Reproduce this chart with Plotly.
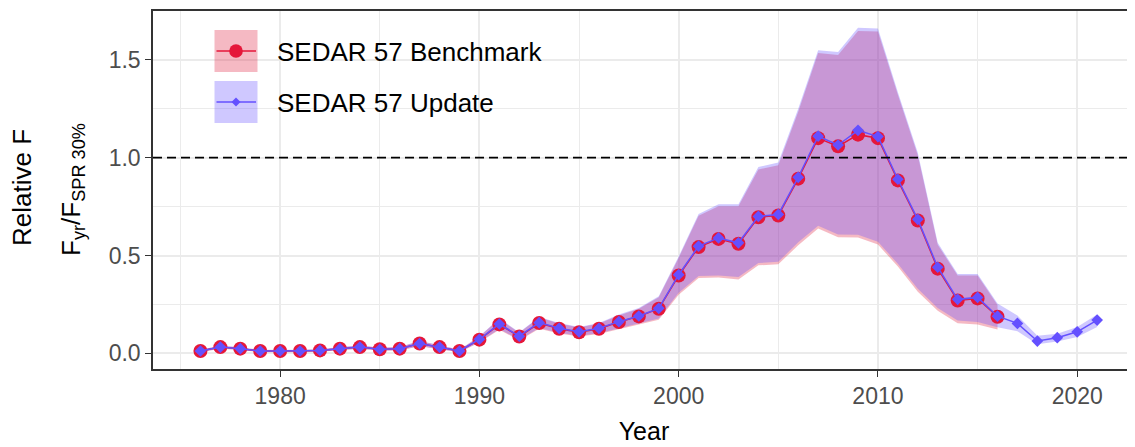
import plotly.graph_objects as go

# ---------------- data ----------------
years_bench = list(range(1976, 2017))
years_update = list(range(1976, 2022))

f_bench = [0.012, 0.032, 0.024, 0.012, 0.012, 0.012, 0.015, 0.024, 0.032, 0.021,
           0.024, 0.050, 0.032, 0.012, 0.070, 0.148, 0.086, 0.155, 0.126, 0.108,
           0.126, 0.160, 0.189, 0.228, 0.398, 0.543, 0.585, 0.560, 0.696, 0.705,
           0.893, 1.100, 1.058, 1.118, 1.100, 0.884, 0.679, 0.433, 0.270, 0.281,
           0.187]
f_bench_lo = [0.006, 0.024, 0.017, 0.006, 0.006, 0.006, 0.008, 0.016, 0.023, 0.013,
              0.015, 0.036, 0.020, 0.005, 0.055, 0.121, 0.066, 0.126, 0.101, 0.086,
              0.099, 0.124, 0.147, 0.172, 0.300, 0.385, 0.388, 0.378, 0.450, 0.455,
              0.553, 0.638, 0.594, 0.592, 0.556, 0.444, 0.315, 0.218, 0.154, 0.148,
              0.122]
f_bench_hi = [0.017, 0.039, 0.030, 0.017, 0.017, 0.017, 0.021, 0.031, 0.040, 0.028,
              0.032, 0.062, 0.042, 0.018, 0.086, 0.175, 0.105, 0.183, 0.152, 0.132,
              0.152, 0.194, 0.228, 0.287, 0.488, 0.703, 0.752, 0.752, 0.940, 0.962,
              1.235, 1.535, 1.525, 1.648, 1.645, 1.322, 1.012, 0.555, 0.398, 0.398,
              0.247]

f_update = [0.012, 0.032, 0.024, 0.012, 0.012, 0.012, 0.015, 0.024, 0.032, 0.021,
            0.024, 0.050, 0.032, 0.012, 0.072, 0.150, 0.088, 0.157, 0.128, 0.110,
            0.128, 0.162, 0.191, 0.230, 0.402, 0.548, 0.590, 0.565, 0.700, 0.710,
            0.900, 1.110, 1.065, 1.140, 1.108, 0.890, 0.685, 0.440, 0.276, 0.286,
            0.190, 0.153, 0.063, 0.080, 0.110, 0.170]
f_update_lo = [0.007, 0.025, 0.018, 0.007, 0.007, 0.007, 0.009, 0.017, 0.024, 0.014,
               0.016, 0.038, 0.022, 0.006, 0.058, 0.125, 0.070, 0.130, 0.105, 0.090,
               0.103, 0.128, 0.152, 0.178, 0.310, 0.395, 0.398, 0.390, 0.462, 0.468,
               0.568, 0.652, 0.608, 0.606, 0.570, 0.458, 0.330, 0.232, 0.168, 0.160,
               0.133, 0.113, 0.047, 0.060, 0.083, 0.135]
f_update_hi = [0.018, 0.040, 0.031, 0.018, 0.018, 0.018, 0.022, 0.032, 0.041, 0.029,
               0.033, 0.064, 0.043, 0.019, 0.088, 0.178, 0.108, 0.186, 0.155, 0.135,
               0.155, 0.198, 0.232, 0.292, 0.495, 0.712, 0.762, 0.762, 0.952, 0.975,
               1.250, 1.550, 1.540, 1.665, 1.660, 1.335, 1.025, 0.565, 0.405, 0.405,
               0.255, 0.193, 0.090, 0.100, 0.135, 0.198]

x_ticks = [1980, 1990, 2000, 2010, 2020]
y_ticks = [0.0, 0.5, 1.0, 1.5]
ref_level = 1.0
series_names = ["SEDAR 57 Benchmark", "SEDAR 57 Update"]

# ---------------- styles ----------------
RED = "#E5173A"
BLUE = "#6450FF"
RED_FILL = "rgba(222,22,55,0.30)"
BLUE_FILL = "rgba(95,72,255,0.30)"
FONT = "Liberation Sans, Arial, sans-serif"

# page body has an 8px margin; the figure is laid out to compensate
OFF = 8
PLOT_L, PLOT_T, PLOT_R, PLOT_B = 153, 11, 1135, 369   # target panel edges in the window
ML = PLOT_L - OFF
MT = PLOT_T - OFF
PW = PLOT_R - PLOT_L
PH = PLOT_B - PLOT_T
MR = 0
MB = 78
W = ML + PW + MR
H = MT + PH + MB


def px_x(p):
    return (p - PLOT_L) / PW


def px_y(p):
    return (PLOT_B - p) / PH


fig = go.Figure()

# confidence bands
fig.add_trace(go.Scatter(
    x=years_bench + years_bench[::-1], y=f_bench_hi + f_bench_lo[::-1],
    fill="toself", fillcolor=RED_FILL, line=dict(width=0), mode="lines",
    hoverinfo="skip", showlegend=False))
fig.add_trace(go.Scatter(
    x=years_update + years_update[::-1], y=f_update_hi + f_update_lo[::-1],
    fill="toself", fillcolor=BLUE_FILL, line=dict(width=0), mode="lines",
    hoverinfo="skip", showlegend=False))

# point estimates
fig.add_trace(go.Scatter(
    x=years_bench, y=f_bench, mode="lines+markers", name=series_names[0],
    line=dict(color=RED, width=1.5),
    marker=dict(color=RED, size=14, symbol="circle"), showlegend=False))
fig.add_trace(go.Scatter(
    x=years_update, y=f_update, mode="lines+markers", name=series_names[1],
    line=dict(color=BLUE, width=1.5),
    marker=dict(color=BLUE, size=9, symbol="diamond"), showlegend=False))

shapes = [
    dict(type="line", xref="paper", yref="y", x0=0, x1=1, y0=ref_level, y1=ref_level,
         line=dict(color="black", width=1.8, dash="9px,5px"), layer="above"),
]

# manual legend (ggplot-style keys)
key_x0, key_x1 = 214.5, 257.5
keys = [(30, 72, RED_FILL, RED, "circle"), (81, 123, BLUE_FILL, BLUE, "diamond")]
annotations = []
for (ky0, ky1, fillc, linec, sym), label in zip(keys, series_names):
    cy = (ky0 + ky1) / 2
    shapes.append(dict(type="rect", xref="paper", yref="paper",
                       x0=px_x(key_x0), x1=px_x(key_x1), y0=px_y(ky1), y1=px_y(ky0),
                       fillcolor=fillc, line=dict(width=0), layer="above"))
    shapes.append(dict(type="line", xref="paper", yref="paper",
                       x0=px_x(key_x0 + 2), x1=px_x(key_x1 - 1.5), y0=px_y(cy), y1=px_y(cy),
                       line=dict(color=linec, width=1.5), layer="above"))
    cx = (key_x0 + key_x1) / 2
    if sym == "circle":
        r = 6.8
        shapes.append(dict(type="circle", xref="paper", yref="paper",
                           x0=px_x(cx - r), x1=px_x(cx + r), y0=px_y(cy + r), y1=px_y(cy - r),
                           fillcolor=linec, line=dict(width=0), layer="above"))
    else:
        r = 4.5
        path = "M {:.5f} {:.5f} L {:.5f} {:.5f} L {:.5f} {:.5f} L {:.5f} {:.5f} Z".format(
            px_x(cx), px_y(cy - r), px_x(cx + r), px_y(cy),
            px_x(cx), px_y(cy + r), px_x(cx - r), px_y(cy))
        shapes.append(dict(type="path", xref="paper", yref="paper", path=path,
                           fillcolor=linec, line=dict(width=0), layer="above"))
    annotations.append(dict(text=label, xref="paper", yref="paper",
                            x=px_x(275), y=px_y(cy + 1), xanchor="left", yanchor="middle",
                            showarrow=False, font=dict(family=FONT, size=26, color="black")))

# y-axis title (two lines)
annotations.append(dict(text="Relative F", xref="paper", yref="paper",
                        x=px_x(22), y=px_y(188), xanchor="center", yanchor="middle",
                        textangle=-90, showarrow=False,
                        font=dict(family=FONT, size=26, color="black")))
annotations.append(dict(text="F<sub>yr</sub>/F<sub>SPR 30%</sub>", xref="paper", yref="paper",
                        x=px_x(72), y=px_y(190), xanchor="center", yanchor="middle",
                        textangle=-90, showarrow=False,
                        font=dict(family=FONT, size=26, color="black")))

fig.update_layout(
    width=W, height=H,
    margin=dict(l=ML, r=MR, t=MT, b=MB, pad=0),
    paper_bgcolor="white", plot_bgcolor="white",
    font=dict(family=FONT, color="#4D4D4D"),
    shapes=shapes, annotations=annotations,
    showlegend=False,
)

fig.update_xaxes(
    range=[1973.62, 2022.9], tickvals=x_ticks, ticktext=[str(v) for v in x_ticks],
    ticks="outside", ticklen=6, tickwidth=1.3, tickcolor="#333333",
    tickfont=dict(family=FONT, size=23, color="#4D4D4D"),
    showgrid=True, gridcolor="#EBEBEB", gridwidth=1.6,
    minor=dict(dtick=5, tick0=1975, showgrid=True, gridcolor="#EBEBEB", gridwidth=0.8, ticks=""),
    showline=True, linecolor="#333333", linewidth=1.5, mirror=True,
    zeroline=False,
    title=dict(text="Year", font=dict(family=FONT, size=25, color="black"), standoff=14),
)
fig.update_yaxes(
    range=[-0.080, 1.750], tickvals=y_ticks, ticktext=["{:.1f}".format(v) for v in y_ticks],
    ticks="outside", ticklen=6, tickwidth=1.3, tickcolor="#333333",
    tickfont=dict(family=FONT, size=23, color="#4D4D4D"),
    showgrid=True, gridcolor="#EBEBEB", gridwidth=1.6,
    minor=dict(dtick=0.25, tick0=0, showgrid=True, gridcolor="#EBEBEB", gridwidth=0.8, ticks=""),
    showline=True, linecolor="#333333", linewidth=1.5, mirror=False,
    zeroline=False,
)

fig.write_html("out.html")
